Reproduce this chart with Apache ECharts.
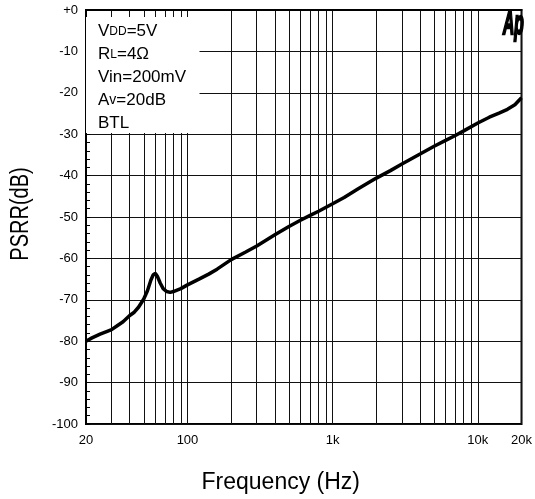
<!DOCTYPE html>
<html>
<head>
<meta charset="utf-8">
<script src="https://cdn.jsdelivr.net/npm/echarts@6/dist/echarts.min.js"></script>
<style>
html,body{margin:0;padding:0;background:#fff;}
#chart{width:535px;height:499px;}
</style>
</head>
<body>
<div id="chart"></div>
<script>
// Frequency (Hz) and PSRR (dB)
const freqs = [20,22,25,28,30,33,36,40,43,46,50,53,56,58,60,62,65,68,72,76,80,90,100,120,140,160,200,250,300,400,500,600,700,800,1000,1200,1500,2000,2500,3000,4000,5000,6000,7000,8000,10000,12000,14000,16000,18000,20000];
const psrr = [-80.0,-79.2,-78.3,-77.6,-77.2,-76.2,-75.3,-73.8,-73.0,-71.8,-69.8,-67.8,-65.2,-64.0,-63.6,-64.3,-66.0,-67.3,-68.0,-68.2,-68.0,-67.3,-66.4,-65.0,-63.8,-62.6,-60.3,-58.5,-57.0,-54.3,-52.3,-50.8,-49.6,-48.6,-46.8,-45.3,-43.2,-40.6,-38.8,-37.2,-34.8,-32.9,-31.5,-30.3,-29.2,-27.3,-25.9,-24.9,-24.0,-22.9,-21.2];
const gridFreqs = [20,30,40,50,60,70,80,90,100,200,300,400,500,600,700,800,900,1000,2000,3000,4000,5000,6000,7000,8000,9000,10000,20000];
const xLabelValues = [20,100,1000,10000,20000];
const xLabelText = {20:'20',100:'100',1000:'1k',10000:'10k',20000:'20k'};
const yMin = -100, yMax = 0, yStep = 10;
const infoLines = ['V{s|DD}=5V','R{s|L}=4\u03A9','Vin=200mV','A{v|v}=20dB','BTL'];

const FONT = 'Liberation Sans, Arial, sans-serif';
const chart = echarts.init(document.getElementById('chart'));
chart.setOption({
  animation:false,
  backgroundColor:'#fff',
  grid:{left:86,right:12,top:10,bottom:75,show:true,borderColor:'#000',borderWidth:2,backgroundColor:'transparent'},
  xAxis:{
    type:'log',logBase:10,min:20,max:20000,
    name:'Frequency (Hz)',nameLocation:'middle',nameGap:47,
    nameTextStyle:{fontFamily:FONT,fontSize:23,color:'#000',padding:[0,46,0,0]},
    axisLine:{show:true,lineStyle:{color:'#000',width:2}},
    axisTick:{show:false,customValues:gridFreqs},
    splitLine:{show:true,lineStyle:{color:'#111',width:1}},
    axisLabel:{customValues:xLabelValues,margin:10,fontFamily:FONT,fontSize:13,color:'#000',
      formatter:function(v){return xLabelText[Math.round(v)]||'';}}
  },
  yAxis:{
    type:'value',min:yMin,max:yMax,interval:yStep,
    axisLine:{show:true,lineStyle:{color:'#000',width:2}},
    axisTick:{show:true,inside:true,length:4,lineStyle:{color:'#000'}},
    minorTick:{show:true,splitNumber:5,length:4,lineStyle:{color:'#000'}},
    splitLine:{show:true,lineStyle:{color:'#111',width:1}},
    axisLabel:{margin:8,fontFamily:FONT,fontSize:13,color:'#000',
      formatter:function(v){return v===0?'+0':String(v);}}
  },
  series:[{
    type:'line',
    data:freqs.map((f,i)=>[f,psrr[i]]),
    showSymbol:false,
    lineStyle:{color:'#000',width:3.5},
    z:5,
    markArea:{
      silent:true,
      itemStyle:{color:'#fff',opacity:1},
      data:[[{coord:[20,-1.7]},{coord:[121,-29.7]}]]
    }
  }],
  graphic:[
    {type:'group',x:98,y:23,z:100,children:infoLines.map((t,i)=>({
      type:'text',x:0,y:i*22.9,z:100,
      style:{text:t,fontFamily:FONT,fontSize:17,fill:'#000',
        rich:{s:{fontSize:12,fontFamily:FONT,fill:'#000'},v:{fontSize:14,fontFamily:FONT,fill:'#000'}}}
    }))},
    {type:'text',x:503,y:8,z:100,scaleX:0.46,
      style:{text:'Ap',fontFamily:FONT,fontWeight:'bold',fontStyle:'italic',fontSize:34,fill:'#000',stroke:'#000',lineWidth:2.5}},
    {type:'text',x:21,y:214,z:100,rotation:Math.PI/2,scaleY:1.25,
      style:{text:'PSRR(dB)',fontFamily:FONT,fontSize:20,fill:'#000',align:'center',verticalAlign:'middle'}}
  ]
});
</script>
</body>
</html>
